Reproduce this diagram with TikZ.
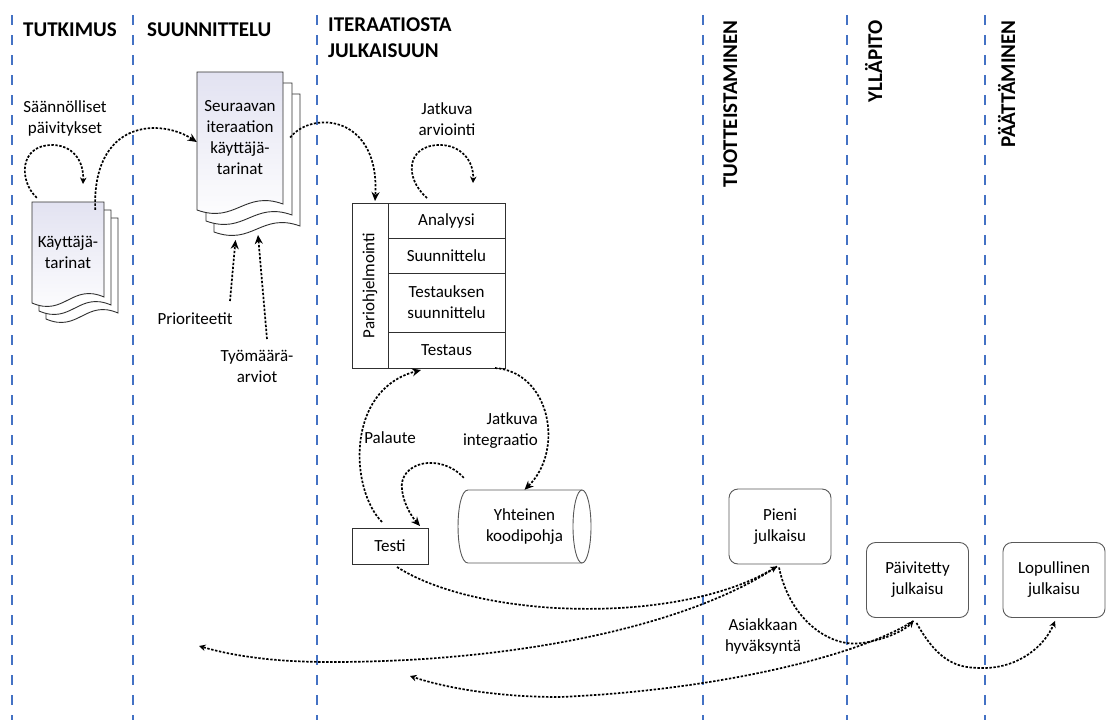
\documentclass[tikz,border=0pt]{standalone}
\usepackage{fontspec}
\setmainfont{Carlito}
\usetikzlibrary{arrows.meta,calc}

\definecolor{laneblue}{HTML}{4472C4}
\definecolor{inkgray}{HTML}{303030}
\definecolor{softgray}{HTML}{595959}
\definecolor{pagetint}{HTML}{E2E2F1}

% one sheet of a document stack: [fill options]{left}{top}{right}{bottom-left y}
\newcommand\storysheet[5][fill=white]{%
  \path[draw=inkgray, line width=0.9pt, #1]
    (#2,#3) -- (#4,#3) -- (#4,#5-6)
    .. controls ({#4-0.45*(#4-#2)},#5-20) and ({#2+0.45*(#4-#2)},#5+14) ..
    (#2,#5) -- cycle;}

\begin{document}
\begin{tikzpicture}[x=1pt,y=-1pt,
  lane/.style={laneblue, line width=1.4pt, dash pattern=on 10pt off 10pt},
  phase/.style={font=\fontsize{21}{26}\selectfont\bfseries, inner sep=0pt, align=left},
  lbl/.style={font=\fontsize{17}{21}\selectfont, align=center, inner sep=0pt},
  cell/.style={draw=inkgray, line width=0.9pt, fill=white, inner sep=0pt, outer sep=0pt,
    anchor=north west, font=\fontsize{17}{21}\selectfont, align=center},
  release/.style={draw=softgray, line width=0.9pt, fill=white, rounded corners=9pt,
    minimum width=102pt, minimum height=75pt, inner sep=0pt,
    font=\fontsize{17}{21}\selectfont, align=center},
  flow/.style={line width=1.7pt, dash pattern=on 2.4pt off 1.6pt,
    -{Stealth[length=9pt,width=8pt]}},
  flowdot/.style={line width=1.7pt, dash pattern=on 2.4pt off 1.6pt,
    -{Stealth[length=6.5pt,width=6.5pt]}}
]
\useasboundingbox (0,0) rectangle (1118,720);
\fill[white] (0,0) rectangle (1118,720);

% phase separators
\foreach \lx in {12,133,317,703,847,985}
  \draw[lane] (\lx,15) -- (\lx,720);

% phase titles
\node[phase, anchor=base west] (t1) at (23,36) {TUTKIMUS};
\node[phase, anchor=base west] (t2) at (147,36) {SUUNNITTELU};
\node[phase, anchor=north west] (t3) at (328,18) {ITERAATIOSTA\\JULKAISUUN};
\node[phase, rotate=90, anchor=base east] (t4) at (737,20) {TUOTTEISTAMINEN};
\node[phase, rotate=90, anchor=base east] (t5) at (882,20) {YLLÄPITO};
\node[phase, rotate=90, anchor=base east] (t6) at (1015,20) {PÄÄTTÄMINEN};

% user stories stack
\storysheet{46}{218}{118}{319}
\storysheet{39}{210}{111}{311}
\storysheet[top color=pagetint, bottom color=white]{32}{202}{104}{303}
\node[lbl, minimum width=72pt, minimum height=100pt] (kt) at (68,252) {Käyttäjä-\\tarinat};

% next iteration stories stack
\storysheet{214}{94}{300}{232}
\storysheet{206}{83}{292}{221}
\storysheet[top color=pagetint, bottom color=white]{197}{72}{283}{210}
\node[lbl, minimum width=86pt, minimum height=131pt] (sit) at (240,137.5) {Seuraavan\\iteraation\\käyttäjä-\\tarinat};

% pair programming table
\node[cell, minimum width=36pt, minimum height=165pt] (pair) at (352,203) {};
\node[rotate=90, font=\fontsize{17}{21}\selectfont, inner sep=0pt] (pairtxt) at (370,285.5) {Pariohjelmointi};
\node[cell, minimum width=117pt, minimum height=35pt] (ana) at (388,203) {Analyysi};
\node[cell, minimum width=117pt, minimum height=35pt] (suu) at (388,238) {Suunnittelu};
\node[cell, minimum width=117pt, minimum height=59pt] (tsu) at (388,273) {Testauksen\\suunnittelu};
\node[cell, minimum width=117pt, minimum height=36pt] (tst) at (388,332) {Testaus};

% test box
\node[cell, minimum width=76pt, minimum height=36pt] (testi) at (352,528) {Testi};

% shared code base (horizontal cylinder)
\path[draw=softgray, line width=0.9pt, fill=white]
  (582,490) -- (468,490) .. controls (454.7,490) and (454.7,563) .. (468,563) -- (582,563);
\draw[softgray, line width=0.9pt, fill=white] (582,526.5) ellipse [x radius=9, y radius=36.5];
\node[lbl, minimum width=133pt, minimum height=73pt] (code) at (524.5,526.5) {Yhteinen\\koodipohja};

% releases
\node[release] (pieni) at (780,526.5) {Pieni\\julkaisu};
\node[release] (paiv) at (917.5,580) {Päivitetty\\julkaisu};
\node[release] (lop) at (1054,580) {Lopullinen\\julkaisu};

% connector labels
\node[lbl] (regular) at (65,118.5) {Säännölliset\\päivitykset};
\node[lbl] (arv) at (447,119) {Jatkuva\\arviointi};
\node[lbl] (prio) at (195,319) {Prioriteetit};
\node[lbl] (tyo) at (257,366) {Työmäärä-\\arviot};
\node[lbl, align=right, anchor=east] (ci) at (538,431) {Jatkuva\\integraatio};
\node[lbl] (pal) at (390,438) {Palaute};
\node[lbl] (acc) at (763,636) {Asiakkaan\\hyväksyntä};

% free connector ends
\coordinate (kt-loop) at (83,184);
\coordinate (arv-loop) at (473,183);
\coordinate (prio-tail) at (230,301);
\coordinate (prio-head) at (235.5,240);
\coordinate (tyo-tail) at (267,339);
\coordinate (tyo-head) at (258,235);
\coordinate (acc-left) at (199,646);
\coordinate (upd-left) at (410,676);

% connectors
\draw[flowdot] ($(kt.north west)+(5,-4)$) .. controls (18,180) and (20,145) .. (52,145)
  .. controls (72,145) and (84,160) .. (kt-loop);
\draw[flow] ($(kt.north east)+(-9,8)$) .. controls (92,120) and (160,118) .. ($(sit.west)+(0,4.5)$);
\draw[flow] ($(sit.east)+(7,0)$) .. controls (312,110) and (380,115) .. ($(pair.north)+(5,-2)$);
\draw[flowdot] ($(ana.north west)+(39,-5)$) .. controls (404,178) and (406,145) .. (440,145)
  .. controls (460,145) and (474,160) .. (arv-loop);
\draw[flow] (prio-tail) -- (prio-head);
\draw[flow] (tyo-tail) -- (tyo-head);
\draw[flow] ($(tst.south east)+(-10,0)$) .. controls (550,372) and (565,450) .. (code.north);
\draw[flow] ($(testi.north)+(-8,-6)$) .. controls (350,490) and (345,390) .. ($(tst.south west)+(33,2)$);
\draw[flow] ($(code.north west)+(6,-12)$) .. controls (440,452) and (398,462) .. (402,490)
  .. controls (404,505) and (412,517) .. ($(testi.north east)+(-8,-2)$);
\draw[flowdot] ($(testi.south)+(7,3)$) .. controls (480,620) and (680,625) .. ($(pieni.south)+(-3,2)$);
\draw[flowdot] ($(pieni.south)+(-3,2)$) .. controls (690,625) and (520,662) .. (330,662)
  .. controls (270,662) and (230,655) .. (acc-left);
\draw[flowdot] ($(pieni.south)+(-1,3)$) .. controls (790,620) and (830,648) .. (862,643)
  .. controls (885,640) and (905,630) .. ($(paiv.south)+(-4,3)$);
\draw[flowdot] ($(paiv.south)+(-4,3)$) .. controls (860,655) and (720,690) .. (560,697)
  .. controls (490,697) and (440,686) .. (upd-left);
\draw[flowdot] ($(paiv.south)+(-1,5)$) .. controls (940,665) and (960,668) .. (983,668)
  .. controls (1020,668) and (1045,645) .. ($(lop.south)+(1,3)$);
\end{tikzpicture}
\end{document}
